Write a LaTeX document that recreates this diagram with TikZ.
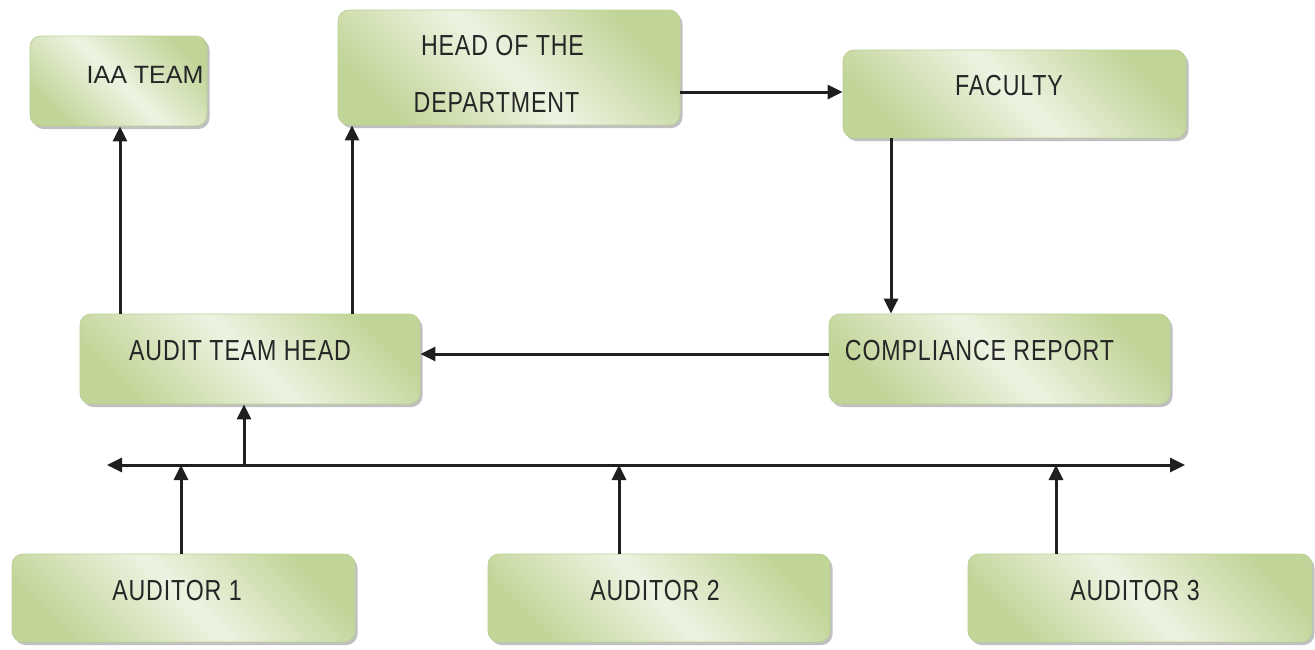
\documentclass[tikz,border=0pt]{standalone}
\usepackage{fontspec}
\setmainfont{Liberation Sans}
\newfontfamily\boxfont[FakeStretch=0.8,LetterSpace=3]{Liberation Sans}
\usetikzlibrary{arrows.meta,shadows}
\definecolor{gdark}{RGB}{194,213,152}
\definecolor{glight}{RGB}{237,243,226}
\definecolor{gedge}{RGB}{188,207,150}
\tikzset{
  greenbox/.style={rectangle, rounded corners=11pt, draw=gedge, line width=0.8pt,
    top color=gdark, bottom color=gdark, middle color=glight, shading angle=135,
    drop shadow={shadow xshift=2.5pt, shadow yshift=-3pt, opacity=0.45, fill=black!55},
    inner sep=0pt},
  boxtext/.style={anchor=base, inner sep=0pt, font=\boxfont\fontsize{29}{31}\selectfont, text=black!85},
  arr/.style={line width=3pt, draw=black!88, -{Triangle[length=15pt,width=14pt]}},
  dblarr/.style={line width=3pt, draw=black!88, {Triangle[length=15pt,width=14pt]}-{Triangle[length=15pt,width=14pt]}}
}
\begin{document}
\begin{tikzpicture}[x=1pt,y=-1pt]
\useasboundingbox (0,0) rectangle (1315,649);
% boxes
\node[greenbox, minimum width=177pt, minimum height=90pt] (iaa) at (118.5,81) {};
\node[greenbox, minimum width=342pt, minimum height=115pt] (hod) at (509,67.5) {};
\node[greenbox, minimum width=343pt, minimum height=88pt] (fac) at (1014.5,94) {};
\node[greenbox, minimum width=340pt, minimum height=90pt] (ath) at (250,359) {};
\node[greenbox, minimum width=341pt, minimum height=90pt] (cr) at (999.5,359) {};
\node[greenbox, minimum width=343pt, minimum height=88pt] (a1) at (183.5,598) {};
\node[greenbox, minimum width=342pt, minimum height=88pt] (a2) at (659,598) {};
\node[greenbox, minimum width=344pt, minimum height=88pt] (a3) at (1140,598) {};
% texts
\node[anchor=base, inner sep=0pt, font=\fontsize{25}{27}\selectfont, text=black!85] (iaat) at (145,83) {IAA TEAM};
\node[boxtext] (hodt1) at (502.5,55) {HEAD OF THE};
\node[boxtext] (hodt2) at (496.5,112) {DEPARTMENT};
\node[boxtext] (fact) at (1009,95) {FACULTY};
\node[boxtext] (atht) at (240,360) {AUDIT TEAM HEAD};
\node[boxtext] (crt) at (979.5,360) {COMPLIANCE REPORT};
\node[boxtext] (a1t) at (177,600) {AUDITOR 1};
\node[boxtext] (a2t) at (655,600) {AUDITOR 2};
\node[boxtext] (a3t) at (1135,600) {AUDITOR 3};
% bus coordinates
\coordinate (busL) at (107,465);
\coordinate (busR) at (1185,465);
\coordinate (b0) at (244,465);
\coordinate (b1) at (181,465);
\coordinate (b2) at (619,465);
\coordinate (b3) at (1056,465);
\coordinate (c1) at (120,0);
\coordinate (c2) at (352,0);
\coordinate (c3) at (891,0);
% connectors
\draw[arr] (ath.north -| c1) -- (iaa.south -| c1);
\draw[arr] (ath.north -| c2) -- (hod.south -| c2);
\draw[arr] (hod.east |- 0,92) -- (fac.west |- 0,92);
\draw[arr] (fac.south -| c3) -- (cr.north -| c3);
\draw[arr] (cr.west |- 0,354) -- (ath.east |- 0,354);
\draw[dblarr] (busL) -- (busR);
\draw[arr] (b0) -- (ath.south -| b0);
\draw[arr] (a1.north -| b1) -- (b1);
\draw[arr] (a2.north -| b2) -- (b2);
\draw[arr] (a3.north -| b3) -- (b3);
\end{tikzpicture}
\end{document}
